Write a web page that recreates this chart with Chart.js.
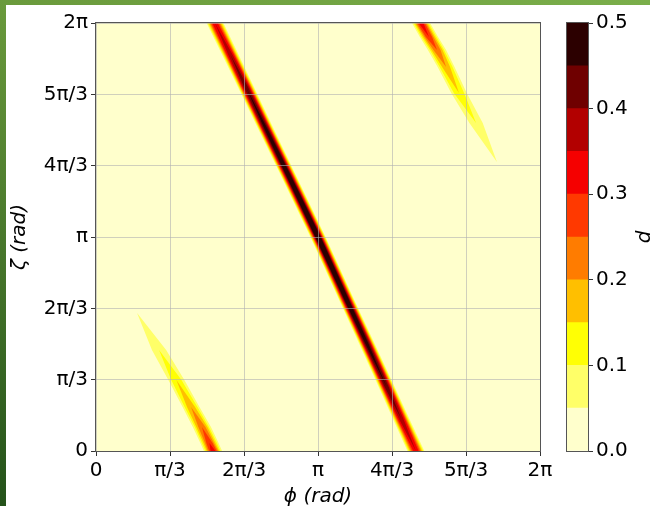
<!DOCTYPE html>
<html>
<head>
<meta charset="utf-8">
<script src="https://cdn.jsdelivr.net/npm/chart.js@4.4.1/dist/chart.umd.min.js"></script>
<style>
  html, body { margin: 0; padding: 0; background: #fff; }
  #page { position: relative; width: 650px; height: 506px; overflow: hidden; background: #fff; }
  #topbar { position: absolute; left: 0; top: 0; width: 650px; height: 5px; background: linear-gradient(to right, #6a9a3c, #7aae4a); }
  #sidebar { position: absolute; left: 0; top: 0; width: 6px; height: 506px; background: linear-gradient(to bottom, #6a9a3c, #24521a); }
  #map { position: absolute; left: 0; top: 0; }
  #bar { position: absolute; left: 560px; top: 0; }
</style>
</head>
<body>
<div id="page">
  <div id="topbar"></div>
  <div id="sidebar"></div>
  <canvas id="map" width="650" height="506"></canvas>
  <canvas id="bar" width="90" height="506"></canvas>
</div>
<script>
const PI = Math.PI;

// contour levels of d and the hot_r colour of each band between them
const levels = [0, 0.05, 0.1, 0.15, 0.2, 0.25, 0.3, 0.35, 0.4, 0.45, 0.5];
const bandColors = [
  'rgb(255,255,204)', 'rgb(255,255,104)', 'rgb(255,255,4)', 'rgb(255,191,0)',
  'rgb(255,124,0)', 'rgb(255,57,0)', 'rgb(245,0,0)', 'rgb(178,0,0)',
  'rgb(111,0,0)', 'rgb(44,0,0)'
];

// axis ticks (multiples of pi) and their labels
const piTicks = [0, 1/3, 2/3, 1, 4/3, 5/3, 2];
const piLabels = ['0', 'π/3', '2π/3', 'π', '4π/3', '5π/3', '2π'];
const barTicks = [0, 0.1, 0.2, 0.3, 0.4, 0.5];

// main ridge: stations in zeta (units of pi), ridge centre phi (units of pi)
const mainZeta = [0, 0.15, 0.3, 0.5, 0.7, 1, 1.3, 1.5, 1.7, 1.85, 2];
const mainPhi = [1.441, 1.375, 1.309, 1.221, 1.132, 1.0, 0.861, 0.768, 0.676, 0.606, 0.536];
// half-width in phi (units of pi) of the region d >= 0.05, 0.10, ... 0.45
const mainHalf = [
  [0.038, 0.037, 0.036, 0.035, 0.034, 0.034, 0.034, 0.035, 0.036, 0.037, 0.038],
  [0.033, 0.032, 0.032, 0.031, 0.031, 0.031, 0.031, 0.031, 0.032, 0.032, 0.033],
  [0.028, 0.028, 0.028, 0.028, 0.028, 0.028, 0.028, 0.028, 0.028, 0.028, 0.028],
  [0.023, 0.024, 0.025, 0.025, 0.025, 0.025, 0.025, 0.025, 0.025, 0.024, 0.023],
  [0.018, 0.020, 0.021, 0.022, 0.022, 0.022, 0.022, 0.022, 0.021, 0.020, 0.018],
  [0.012, 0.016, 0.018, 0.019, 0.019, 0.019, 0.019, 0.019, 0.018, 0.016, 0.012],
  [0, 0.010, 0.014, 0.016, 0.016, 0.017, 0.016, 0.016, 0.014, 0.010, 0],
  [0, 0, 0.009, 0.012, 0.013, 0.014, 0.013, 0.012, 0.009, 0, 0],
  [0, 0, 0, 0.007, 0.010, 0.012, 0.010, 0.007, 0, 0, 0]
];

// weak lower-left ridge, tip first
const lowZeta = [0.645, 0.472, 0.332, 0.206, 0.112, 0.037, 0];
const lowPhi = [0.185, 0.284, 0.362, 0.428, 0.477, 0.511, 0.527];
const lowHalf = [
  [0, 0.032, 0.036, 0.038, 0.041, 0.041, 0.041],
  [0, 0, 0.023, 0.029, 0.032, 0.034, 0.034],
  [0, 0, 0, 0.018, 0.025, 0.027, 0.028],
  [0, 0, 0, 0, 0.016, 0.020, 0.023],
  [0, 0, 0, 0, 0, 0.014, 0.017],
  [0, 0, 0, 0, 0, 0, 0.011]
];

// weak upper-right ridge, tip first
const highZeta = [1.350, 1.533, 1.673, 1.794, 1.874, 1.935, 2.0];
const highPhi = [1.806, 1.712, 1.635, 1.577, 1.536, 1.500, 1.464];
const highHalf = [
  [0, 0.030, 0.035, 0.038, 0.041, 0.041, 0.041],
  [0, 0, 0.023, 0.029, 0.032, 0.034, 0.034],
  [0, 0, 0, 0.018, 0.025, 0.027, 0.028],
  [0, 0, 0, 0, 0.016, 0.020, 0.023],
  [0, 0, 0, 0, 0, 0.014, 0.017],
  [0, 0, 0, 0, 0, 0, 0.011]
];

// closed outline of one level: left edges going up the stations, right edges coming back
function levelOutline(zeta, phi, row) {
  const on = [];
  row.forEach((w, i) => { if (w > 0) on.push(i); });
  if (!on.length) return null;
  const a = Math.max(on[0] - 1, 0);
  const b = Math.min(on[on.length - 1] + 1, row.length - 1);
  const left = [], right = [];
  for (let i = a; i <= b; i++) {
    left.push({ x: (phi[i] - row[i]) * PI, y: zeta[i] * PI });
    right.unshift({ x: (phi[i] + row[i]) * PI, y: zeta[i] * PI });
  }
  return left.concat(right);
}

const ridges = [
  [mainZeta, mainPhi, mainHalf],
  [lowZeta, lowPhi, lowHalf],
  [highZeta, highPhi, highHalf]
];

const datasets = [];
for (let k = 1; k < bandColors.length; k++) {
  ridges.forEach(([z, p, half]) => {
    const row = half[k - 1];
    if (!row) return;
    const pts = levelOutline(z, p, row);
    if (!pts) return;
    datasets.push({
      data: pts,
      backgroundColor: bandColors[k],
      borderColor: 'rgba(0,0,0,0)',
      borderWidth: 0,
      fill: 'shape',
      pointRadius: 0,
      tension: 0,
      order: 100 - k
    });
  });
}

const tickFont = { family: 'DejaVu Sans', size: 20 };
const titleFont = { family: 'DejaVu Sans', size: 20, style: 'italic' };

// lowest band fills the whole plot area
const plotBackground = {
  id: 'plotBackground',
  beforeDatasetsDraw(chart) {
    const { ctx, chartArea: a } = chart;
    ctx.save();
    ctx.fillStyle = bandColors[0];
    ctx.fillRect(a.left, a.top, a.right - a.left, a.bottom - a.top);
    ctx.restore();
  }
};

const frame = {
  id: 'frame',
  afterDraw(chart) {
    const { ctx, chartArea: a } = chart;
    ctx.save();
    ctx.strokeStyle = '#555';
    ctx.lineWidth = 1;
    ctx.strokeRect(a.left - 0.5, a.top - 0.5, a.right - a.left + 1, a.bottom - a.top + 1);
    ctx.restore();
  }
};

const piAxis = (title, fitSize, titlePad) => ({
  type: 'linear',
  min: 0,
  max: 2 * PI,
  afterBuildTicks(scale) { scale.ticks = piTicks.map(v => ({ value: v * PI })); },
  afterFit(scale) {
    if (scale.isHorizontal()) scale.height = fitSize; else scale.width = fitSize;
  },
  ticks: {
    autoSkip: false,
    maxRotation: 0,
    color: '#000',
    font: tickFont,
    padding: 3,
    callback: (v, i) => piLabels[i]
  },
  // grid sits above the filled contours
  grid: {
    z: 1,
    color: 'rgba(176,176,176,0.6)',
    lineWidth: 1,
    tickColor: '#333',
    tickLength: 5
  },
  border: { display: false },
  title: { display: true, text: title, color: '#000', font: titleFont, padding: titlePad }
});

new Chart(document.getElementById('map'), {
  type: 'line',
  data: { datasets },
  options: {
    responsive: false,
    animation: false,
    events: [],
    layout: { padding: { top: 23, right: 110, left: 0, bottom: 0 } },
    plugins: { legend: { display: false }, tooltip: { enabled: false } },
    scales: {
      x: piAxis('ϕ (rad)', 55, { top: 0, bottom: -3 }),
      y: piAxis('ζ (rad)', 96, { top: 8, bottom: 0 })
    }
  },
  plugins: [plotBackground, frame]
});

// colourbar label, reading bottom to top
const barLabel = {
  id: 'barLabel',
  afterDraw(chart) {
    const { ctx, chartArea: a } = chart;
    ctx.save();
    ctx.font = 'italic 20px "DejaVu Sans"';
    ctx.fillStyle = '#000';
    ctx.textAlign = 'center';
    ctx.textBaseline = 'middle';
    ctx.translate(85, (a.top + a.bottom) / 2);
    ctx.rotate(-PI / 2);
    ctx.fillText('d', 0, 0);
    ctx.restore();
  }
};

new Chart(document.getElementById('bar'), {
  type: 'bar',
  data: {
    labels: [''],
    datasets: bandColors.map((c, k) => ({
      data: [levels[k + 1] - levels[k]],
      backgroundColor: c,
      borderWidth: 0,
      barPercentage: 1,
      categoryPercentage: 1
    }))
  },
  options: {
    responsive: false,
    animation: false,
    events: [],
    layout: { padding: { top: 23, right: 0, left: 7, bottom: 55 } },
    plugins: { legend: { display: false }, tooltip: { enabled: false } },
    scales: {
      x: { display: false, stacked: true },
      y: {
        position: 'right',
        stacked: true,
        min: 0,
        max: 0.5,
        afterBuildTicks(scale) { scale.ticks = barTicks.map(v => ({ value: v })); },
        afterFit(scale) { scale.width = 62; },
        ticks: { color: '#000', font: tickFont, padding: 3, callback: v => v.toFixed(1) },
        grid: { drawOnChartArea: false, tickColor: '#333', tickLength: 5 },
        border: { display: false }
      }
    }
  },
  plugins: [frame, barLabel]
});
</script>
</body>
</html>
